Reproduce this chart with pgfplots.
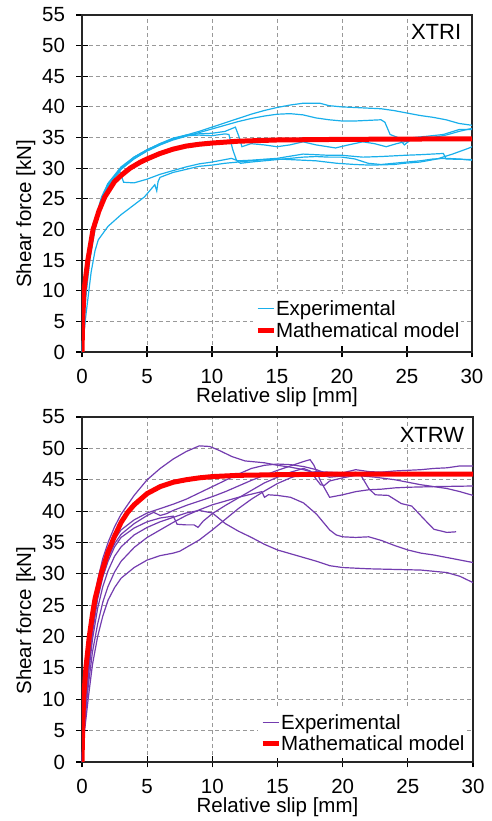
\documentclass[border=0pt]{standalone}
\usepackage{fontspec}
\setmainfont{Liberation Sans}
\usepackage{pgfplots}
\pgfplotsset{compat=1.18}

\definecolor{expcyan}{RGB}{25,175,235}
\definecolor{exppurple}{RGB}{115,60,175}
\definecolor{modelred}{RGB}{255,0,0}
\newcommand{\bigf}{\fontsize{20.5}{23}\selectfont}

\pgfplotsset{
  slipax/.style={
    scale only axis, anchor=south west,
    xmin=0, xmax=30, ymin=0, ymax=55,
    xtick={0,5,...,30}, ytick={0,5,...,55},
    tick pos=left, tick align=center, major tick length=11pt,
    tick style={black, line width=1.1pt},
    axis line style={black!85, line width=1.2pt},
    grid=major, grid style={gray!80, line width=0.9pt, dash pattern=on 4pt off 3pt},
    /pgf/number format/assume math mode=true,
    tick label style={font=\bigf},
    yticklabel style={xshift=-8pt},
    xticklabel style={yshift=-8pt},
    label style={font=\bigf},
    xlabel={Relative slip [mm]}, ylabel={Shear force [kN]},
    xlabel style={yshift=3pt},
    ylabel style={at={(ticklabel cs:0.41)}},
    legend cell align=left,
    legend style={draw=none, fill=white, font=\bigf, anchor=south west,
      inner xsep=2pt, inner ysep=3pt, row sep=0pt,
      nodes={inner xsep=0pt, inner ysep=3pt}},
    legend image code/.code={\draw[#1] (0pt,0pt) -- (16pt,0pt);},
  },
  model/.style={modelred, line width=5pt, mark=none},
  expc/.style={expcyan, line width=1.2pt, mark=none},
  expp/.style={exppurple, line width=1.2pt, mark=none},
}

\begin{document}
\begin{tikzpicture}
\path[use as bounding box] (0,0) rectangle (491pt,821pt);

% ---- XTRI ----
\begin{axis}[slipax, at={(82pt,469pt)}, width=390pt, height=337pt,
  legend style={at={(rel axis cs:0.438,0.02)}}]
\addplot[expc] coordinates {(0,0)(0.2,8)(0.5,15)(1,21)(1.5,24.5)(2,27)(3,29.8)(4,31.5)(5,32.8)(6,33.8)(7,34.7)(8,35.4)(9,36)(10,36.7)(11,37.4)(12,38.1)(13,38.8)(14,39.4)(15,39.9)(16,40.3)(17,40.6)(18.3,40.6)(19,40.2)(20,40)(21,39.9)(22,39.8)(23,39.7)(24,39.4)(25,39)(26,38.6)(27,38.3)(28,37.9)(29,37.3)(30,37)};
\addlegendentry{Experimental}
\addplot[expc, forget plot] coordinates {(0,0)(0.2,8)(0.5,15.5)(1,21.5)(1.5,25)(2,27.5)(3,30)(4,31.6)(5,32.8)(6,33.8)(7,34.6)(8,35.2)(9,35.8)(10,36.4)(11,37)(12,37.6)(13,38.1)(14,38.5)(15,38.8)(16,38.9)(17,38.7)(18,38.2)(19,37.9)(20,37.7)(21,37.7)(22,37.8)(23,37.9)(23.3,37.5)(23.7,35.5)(24.3,35)(24.8,33.8)(25.5,35)(26.5,35.2)(27.8,35.5)(29,36.3)(30,36.3)};
\addplot[expc, forget plot] coordinates {(0,0)(0.2,8)(0.5,15)(1,21)(1.5,24.8)(2,27.2)(3,30)(4,31.8)(5,33)(6,34)(7,34.9)(8,35.4)(9,35.6)(10,35.7)(11,36)(11.8,36.7)(12.1,35)(12.3,33.5)(13,34)(14,33.8)(15,33.5)(16,33.8)(17,34.3)(18,33.8)(19.5,33.3)(20.5,33.8)(21.6,34.3)(22.5,34)(23.4,33.5)(24.2,34)(24.8,34.3)(26,35)(27,35)(28,35.4)(29,36)(30,36.5)};
\addplot[expc, forget plot] coordinates {(0,0)(0.2,8)(0.5,15.5)(1,21.5)(1.5,25.3)(2,27.5)(3,30.2)(4,31.8)(5,33)(6,34)(7,34.8)(8,35.3)(9,35.4)(10,35.3)(11,35.6)(11.3,35.5)(11.6,33)(11.9,31.2)(12.2,30.8)(13,31)(14,31.2)(15,31.4)(16,31.6)(17,31.8)(18,31.9)(19,31.8)(20,31.8)(21,31.5)(22,30.8)(23,30.6)(24,30.8)(25,31)(26,31.2)(27,31.5)(28,31.6)(29,31.5)(30,31.3)};
\addplot[expc, forget plot] coordinates {(0,0)(0.3,9)(0.6,15)(1,20)(1.5,24)(2,26.8)(2.5,28.5)(2.9,29.5)(3.2,27.7)(4,27.6)(5,28.2)(6,29)(7,29.6)(8,30.2)(9,30.7)(10,31)(11,31.4)(11.5,31.6)(12,31.2)(13,31.3)(15,31.6)(17,32.3)(19,32.1)(20,32.1)(21.6,31.8)(23,31.9)(24.8,32.1)(26,32.2)(27.8,32.4)(28,31.5)(30,31.4)};
\addplot[expc, forget plot] coordinates {(0,0)(0.3,6)(0.7,13)(1,16.5)(1.25,18.3)(2,20.5)(3,22.4)(3.5,23.2)(4.8,25.3)(5.6,27.3)(5.75,26.3)(5.85,27.8)(6,28.5)(7,29.3)(8,29.8)(9,30.3)(10,30.5)(11,30.8)(12,31)(13,31.2)(14,31.4)(15,31.5)(16,31.4)(17,31.3)(18,31.2)(19.6,30.8)(21,30.6)(22.2,30.5)(24,30.6)(24.8,30.8)(26,31)(27.3,31.5)(28.5,32.3)(29.8,33.3)(30,33.5)};
\addplot[model] coordinates {(0,0)(0.05,5)(0.15,10)(0.45,15)(0.85,20)(1.3,23)(1.75,25.3)(2.5,27.8)(3,28.8)(3.7,30)(4.5,31)(5,31.5)(6,32.4)(7,33.1)(8,33.6)(9,33.9)(10,34.1)(12,34.4)(15,34.6)(20,34.7)(30,34.8)};
\addlegendentry{Mathematical model}
\node[fill=white, inner sep=1pt, font=\fontsize{22}{24}\selectfont] at (rel axis cs:0.908,0.95) {XTRI};
\end{axis}

% ---- XTRW ----
\begin{axis}[slipax, at={(82pt,59pt)}, width=391pt, height=345pt,
  legend style={at={(rel axis cs:0.45,0.012)}, nodes={inner ysep=2.5pt}}]
\addplot[expp] coordinates {(0,0)(0.2,9)(0.5,18)(0.8,24)(1.2,29)(1.6,32.5)(2,35)(2.5,37.5)(3,39.5)(3.5,41)(4,42.5)(5,45)(6,46.8)(7,48.3)(8,49.5)(9,50.4)(9.8,50.3)(10.5,49.7)(11.5,48.7)(12.5,48)(14,47.7)(15,47.3)(16,47)(17,46.6)(18,46)(19,45.4)(20,45.6)(21,46.2)(21.5,45.6)(22.5,45.4)(24,45)(25,44.6)(26,44.2)(27,43.9)(28,43.6)(29,43.1)(30,42.5)};
\addlegendentry{Experimental}
\addplot[expp, forget plot] coordinates {(0,0)(0.2,7)(0.5,15)(0.8,21)(1.2,26.5)(1.6,30)(2,32.5)(2.5,34.8)(3,36.3)(4,38)(5,39.3)(5.5,39.8)(6,39.3)(6.5,39.6)(7,40.1)(8,40.9)(9,41.6)(10,42.3)(11,43.1)(12,44)(13,44.9)(14,45.7)(15,46.5)(16,47.2)(17,47.9)(17.5,48.2)(17.8,47.3)(18.3,44.8)(19,42.2)(20,42.6)(21,43.1)(22,43.4)(23,43.5)(24,43.7)(25,43.8)(27,43.9)(30,44)};
\addplot[expp, forget plot] coordinates {(0,0)(0.2,7)(0.5,14.5)(0.8,20.5)(1.2,26)(1.6,29.5)(2,32)(2.5,34.3)(3,35.8)(4,37.3)(5,38.3)(6,38.9)(7,39.2)(7.3,37.9)(8,37.8)(8.6,37.8)(8.9,37.4)(9.3,38.4)(10,39.6)(11,40.9)(12,42.1)(13,43.3)(14,44.5)(15,45.4)(16,46.2)(17,46.8)(17.5,46.4)(18.3,44.2)(18.6,44.1)(19,44.8)(20,45.3)(21,45.7)(22,46)(23,46.2)(24,46.4)(25,46.5)(26,46.6)(27,46.8)(28,46.9)(29,47.2)(30,47.2)};
\addplot[expp, forget plot] coordinates {(0,0)(0.2,8)(0.5,16)(0.8,22)(1.2,27.5)(1.6,31)(2,33.5)(2.5,35.5)(3,37)(4,38.6)(5,39.7)(6,40.4)(7,41.1)(8,41.9)(9,42.9)(10,43.9)(11,44.9)(12,45.9)(13,46.8)(14,47.3)(15,47.5)(16,47.4)(17,47.1)(18,46.6)(19,45.8)(20,45.5)(21,46)(21.4,45.7)(22,43.6)(22.5,42.6)(23.5,42.5)(24.5,41.2)(25.3,40.8)(26.3,38.6)(27,37.1)(28,36.6)(28.7,36.7)};
\addplot[expp, forget plot] coordinates {(0,0)(0.2,7)(0.5,14)(0.8,19.5)(1.2,24.5)(1.6,28)(2,30.5)(2.5,32.8)(3,34.3)(4,36.2)(5,37.4)(6,38.3)(7,39)(8,39.7)(9,40.1)(10,39.7)(11,38)(12,36.8)(13,35.8)(14,34.7)(15,33.8)(16,33.2)(17,32.6)(18,32)(19,31.3)(20,31)(22,30.8)(24,30.7)(26,30.6)(27,30.4)(28,30.2)(29,29.6)(30,28.6)};
\addplot[expp, forget plot] coordinates {(0,0)(0.2,6)(0.5,12.5)(0.8,17.5)(1.2,22)(1.6,25.5)(2,28)(2.5,30.3)(3,32)(4,34.2)(5,35.8)(6,37)(7,38.2)(8,39.3)(9,40.2)(10,41)(11,41.6)(12,42.2)(13,42.7)(13.8,43.1)(14,42.2)(14.3,42.6)(15,42.5)(16,42.2)(17,41.3)(18,39.5)(19,37)(19.5,36.2)(20,35.9)(21,35.8)(22,35.9)(23,35.3)(24,34.5)(25,33.8)(26,33.3)(27,33)(28,32.6)(29,32.2)(30,31.8)};
\addplot[expp, forget plot] coordinates {(0,0)(0.2,5)(0.5,10.5)(0.8,15.5)(1.2,20)(1.6,23.3)(2,25.8)(2.5,27.8)(3,29.3)(4,31)(5,32.2)(6,32.9)(7,33.3)(7.5,33.6)(8,34.2)(9,35.4)(10,37)(11,38.7)(12,40.4)(13,41.9)(14,43.2)(15,44.4)(16,45.3)(17,46)(18,46.3)(19,46.2)(20,46.1)(21,46.6)(22,46.3)(24,46.1)(26,46)(28,46)(30,46.1)};
\addplot[model] coordinates {(0,0)(0.05,5)(0.12,10)(0.3,15)(0.56,20)(0.8,23.5)(1,26)(1.5,30.2)(2,33.5)(2.5,36)(3,38.2)(3.5,39.8)(4,41)(5,42.8)(6,43.9)(7,44.6)(8,45)(9,45.3)(10,45.5)(12,45.7)(15,45.8)(20,45.9)(30,45.9)};
\addlegendentry{Mathematical model}
\node[fill=white, inner sep=1pt, font=\fontsize{22}{24}\selectfont] at (rel axis cs:0.895,0.948) {XTRW};
\end{axis}
\end{tikzpicture}
\end{document}
